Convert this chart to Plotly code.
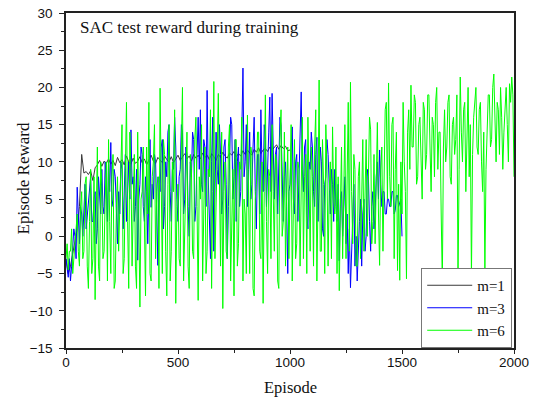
import plotly.graph_objects as go

# Test reward logged every few training episodes
STEP_M1 = 10
STEP_M3 = 5
STEP_M6 = 5

reward_m1 = [
    -3, -5, -4, -2.5, -1, 1, 4, 11, 8.5, 8.7,
    8.3, 8.8, 7.5, 9.2, 9.6, 10.2, 9.4, 10.1, 9.8, 10.4,
    9.7, 10.2, 9.5, 10.6, 9.9, 10.3, 9.6, 10.8, 10.0, 9.7,
    10.5, 9.8, 10.1, 10.7, 9.9, 10.4, 9.6, 10.2, 10.9, 10.1,
    9.8, 10.6, 10.2, 9.9, 10.8, 10.3, 10.0, 10.7, 9.9, 10.5,
    10.9, 10.2, 10.6, 11.1, 10.4, 10.8, 10.1, 11.0, 10.5, 10.9,
    10.4, 11.2, 10.6, 10.9, 10.3, 11.1, 10.7, 10.2, 11.0, 10.6,
    11.3, 10.8, 10.5, 11.2, 10.9, 11.4, 10.7, 11.1, 10.8, 11.5,
    11.0, 11.6, 11.2, 10.9, 11.7, 11.3, 11.9, 11.1, 11.6, 11.8,
    11.4, 12.0, 11.6, 11.9, 12.3, 11.7, 12.2, 11.8, 12.1, 11.5,
    11.6,
]

reward_m3 = [
    -3, -4, -5.5, -3, -6, -4, -2, 1, 0, -3, 6.6, 2, -1, 4, 3, 0, 5, 7, 1, 3,
    4, 7, 8, 2, 2, 5, 6, -1, 1, 8, 5, 3, 9, 4, 3, 10, 7, 2, 10, 6,
    12.6, 4, 5, 9, 8, 3, -1, 6, 3, 10, 9, 1, 6, 11, 2, 8, 10, 5, 14.3, 7,
    8, 2, 4, 9, -3.2, 5, 7, 12, 11, 4, 2, 8, 6, -1, 9, 13, 3.9, 7, 5, 11,
    10, 3, -3.9, 8, 6, 12, 13, 1, 4, 10, 8, 14, 15, 6, 2, 9, 9, 16, 12, 5,
    2, 8, 9, 15, 14, 3, 5, 12, 11, 4, 0, 10, 8, 14, 13, 2, 4, 11, 16, 9,
    17, 7, 6, 13, 12, 4, 19.6, 8, 3, -3, 10, 16, -2, 6, 14, 9, 7, 15, 11, 3,
    5, 12, 13, 7, -3, 4, 9, 16, 15, 5, 8, 13, 2, 10, 12, 4, 6, 14, 22.6, 8,
    10, 15, 4, 9, 14, 5, 7, 12, 16, 6, 1, 11, 11, 3, 17, 9, 6, 15, 13, 4,
    8, 14, 18.7, 6, 19.2, 10, 5, 11, 12, 3, 9, 16, 15, 7, 2, 8, 10, 4, -5, 6,
    7, 12, 14.7, 5, 3, 10, 11, 2, 8, 16, 19.4, 9, 6, 12, 13, 3, 1, 10, 9, 14,
    12, 6, 4, 11, 13.3, 2, 6, 12, 10, 1, 0, 7, 8, 13, 11, 5, 3, 9, 7, 2,
    9, 4, 2, 7, -3.3, 5, 6, 0, 4, 8, -1, 3, -5, 1, -6.9, -2, 3, 7, -4, 0,
    -6, -1, 2, 5, -4, 3, 5, -2, 0, 9, 8, 2, -2, 4, 6, 1, 3, 8, 10, 5,
    11.6, 7, 4, 6, 6, 3, 3, 5, 5, 4, 4, 6, 6, 3, 3.5, 5.5, 5.5, 4, 4.5, 5,
    0,
]

reward_m6 = [
    -3, -1, -4.5, -2, -2, 1, -5, -3, -1, 2, 3, -2, -4, 4, 6, -3, -2, 7, 8, -4,
    -7, 2, 9, -5, -3, 8, -8.5, 3, 12, -4, -6, 10, 7, -3, -2, 5, 10, -6, 13, 2,
    -5, 8, 11, -7, -6, 4, 8, -2, 4, 12, 15, -5, -3, 9, 18, 2, -7, 14, 9, -4,
    3, 11, -4, -7, 14, -2, -9.5, 5, 6, 12, -2, -8, 12, 3, 18, -5, -6, 8, 10, 15,
    -3, 6, 8, -7, 19.9, 4, -5, 13, 11, -2, -8, 7, 15, -6, -2, 10, 6, 17, -9, 4,
    7, -3, -4, 12, 20, -6, 2, 9, 14, -4, -7, 11, 9, -2, -3, 13, 16, 4, -8.6, 8,
    5, 15, -6, 3, 12, -5, -2, 9, 8, 17, -7, 6, 20.8, -3, 3, 11, 19.2, 2, -4, 14,
    -9.7, 6, 10, -2, -3, 12, 15, -6, 4, 9, -8, 13, 13, -4, -1, 10, 9, 16, -6, 5,
    3, -5, 16.3, 8, -5, 12, 11, -7, -8, 5, 7, 14, 14, -2, -3, 10, -9, 6, 19, 2,
    -5, 9, 8, -3, 15, 6, -2, 11, 10, -6, -7, 13, 17, 0, 2, 14, -4, 6, 12, -3,
    4, 15, -6, 7, 13, -3, -1, 10, 9, -4, 6, 16, -3, 8, 11, -5, 16, 3, -2, 12,
    8, -4, 12, 17, -6, 5, 21, -2, -2, 13, 7, -5, 15, 9, -4, 6, 10, -3, 14.7, 5,
    3, 12, -5, 8, -7.3, 4, 12, -3, 6, 15, -3, 9, 18, -2, 20.7, 6, -1, 11, 9, -4,
    -4, 8, 10, -3, 5, 13, -2, 7, 13, 0, 8, 16, 14.3, -1, 2, 11, -1, 6, 15.3, 3,
    -3.9, 9, 12, -2, 6, 17, 18, 5, 20.6, 8, 4, 15, 16, -3, 9, 14, -4.6, 7, -5.9, 10,
    3, 18, 10, 6, -5.7, 14, 17, 9, 20.3, 12, 12, 19, 18, 7, 8, 15, 16, 11, 5, 18,
    17, 9, 11, 19, 19, 12, 6, 16, 15, 8, 18, 20, 9, 14, 14, 3, -6.3, 12, 17, 10,
    12, 18, 19, 8, 7, 15, 16, 11, 13, 19, -5.7, 9, 21.4, 14, 10, 17, 18, 6, 14, 20,
    8, 15, -5.6, 11, 16, 19, 20, 12, 11, 17, 18, 10, 6, 14, -5, 9, 15, 19, 19, 12,
    13, 20, 21.8, 15, 10, 18, 17, 11, 20, 16, 9, 14, 18, 20, 15, 10, 20.5, 18, 21.4, 19,
    8,
]

series = [
    ("m=1", reward_m1, STEP_M1, "#3a3a3a"),
    ("m=3", reward_m3, STEP_M3, "#0000ff"),
    ("m=6", reward_m6, STEP_M6, "#00ff00"),
]

SERIF = "Liberation Serif, Times New Roman, serif"
SANS = "Liberation Sans, Arial, sans-serif"

fig = go.Figure()
for name, values, step, color in series:
    episodes = [i * step for i in range(len(values))]
    fig.add_trace(go.Scatter(
        x=episodes, y=values, name=name, mode="lines",
        line=dict(color=color, width=1),
    ))

axis_common = dict(
    showline=True, linecolor="#222", linewidth=1.5, mirror=True,
    showgrid=False, zeroline=False, automargin=False,
    ticks="outside", tickwidth=1.2, tickcolor="#222",
    tickfont=dict(family=SANS, size=13.5, color="#111"),
)

fig.update_xaxes(
    range=[0, 2000], tickmode="linear", tick0=0, dtick=500, ticklen=4,
    ticklabelstandoff=-3,
    minor=dict(ticks="outside", ticklen=3, tickwidth=1.2, tickcolor="#222", dtick=250),
    **axis_common,
)
fig.update_yaxes(
    range=[-15, 30], tickmode="linear", tick0=-15, dtick=5, ticklen=5,
    ticklabelstandoff=4,
    minor=dict(ticks="outside", ticklen=3, tickwidth=1.2, tickcolor="#222", dtick=2.5),
    **axis_common,
)

# Axis titles and the in-plot heading
fig.add_annotation(
    text="Episode", xref="paper", yref="paper", x=0.5, y=-0.119,
    xanchor="center", yanchor="middle", showarrow=False,
    font=dict(family=SERIF, size=16.5, color="#111"),
)
fig.add_annotation(
    text="Episode Reward", xref="paper", yref="paper", x=-0.096, y=0.506,
    xanchor="center", yanchor="middle", textangle=-90, showarrow=False,
    font=dict(family=SERIF, size=17, color="#111"),
)
fig.add_annotation(
    text="SAC test reward during training", xref="paper", yref="paper",
    x=0.026, y=0.99, xanchor="left", yanchor="top", showarrow=False,
    font=dict(family=SERIF, size=17, color="#111"),
)

fig.update_layout(
    width=537, height=399,
    margin=dict(l=66, r=23, t=13, b=51),
    paper_bgcolor="white", plot_bgcolor="white",
    showlegend=True,
    legend=dict(
        x=0.996, y=0.0, xanchor="right", yanchor="bottom",
        bgcolor="white", bordercolor="#777", borderwidth=1,
        font=dict(family=SERIF, size=15, color="#111"),
        tracegroupgap=0, itemwidth=45,
    ),
)

fig.write_html("out.html")
